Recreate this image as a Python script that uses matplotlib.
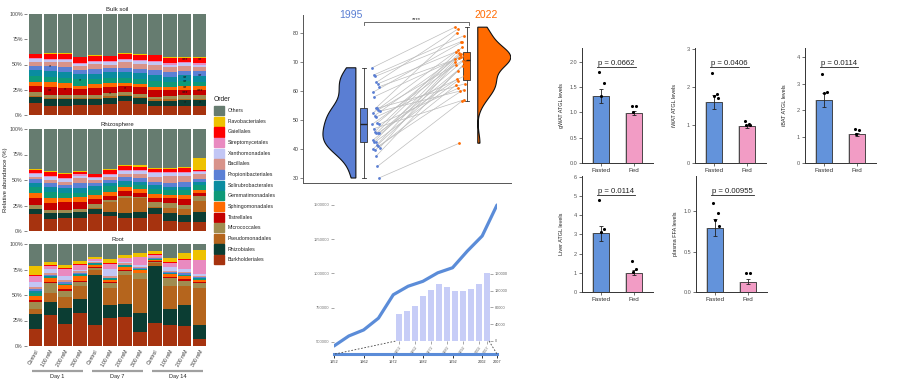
import numpy as np
import matplotlib
matplotlib.use("Agg")
import matplotlib.pyplot as plt
from matplotlib.lines import Line2D
from matplotlib.patches import Rectangle
import matplotlib.transforms as mtransforms

plt.rcParams['font.family'] = ['Liberation Sans', 'DejaVu Sans']

# ---------------------------------------------------------------- data
orders = ["Burkholderiales", "Rhizobiales", "Pseudomonadales", "Micrococcales",
          "Tistrellales", "Sphingomonadales", "Gemmatimonadales",
          "Solirubrobacterales", "Propionibacteriales", "Bacillales",
          "Xanthomonadales", "Streptomycetales", "Gaiellales",
          "Flavobacteriales", "Others"]
order_colors = ["#A6330F", "#0B3D33", "#B5651D", "#A08C50", "#C40000",
                "#FF6A00", "#0E9A78", "#0A8CA0", "#5B80D5", "#D8938A",
                "#C2C6F5", "#E98AC0", "#FF0000", "#EEC200", "#667C70"]
samples = ["Control", "100 mM", "200 mM", "300 mM"] * 3
days = ["Day 1", "Day 7", "Day 14"]

# one row per sample, columns in the order of `orders`
bulk_soil_pct = [
    [11.8, 6.0, 1.5, 3.0, 6.5, 4.0, 5.5, 6.0, 4.5, 4.0, 2.5, 1.0, 4.0, 0.5, 39.2],
    [9.2, 6.5, 1.5, 2.5, 8.0, 4.5, 5.0, 6.0, 5.0, 4.5, 2.0, 1.0, 5.0, 0.5, 38.8],
    [9.2, 6.5, 1.5, 3.0, 7.0, 4.0, 5.0, 6.5, 5.0, 4.5, 2.0, 1.0, 5.5, 0.5, 38.8],
    [10.2, 5.5, 1.5, 3.0, 6.0, 3.0, 6.0, 5.0, 4.0, 4.0, 2.0, 1.5, 5.5, 0.5, 42.3],
    [10.2, 5.5, 1.5, 2.5, 7.5, 3.0, 5.0, 5.5, 4.5, 5.0, 2.0, 1.0, 5.5, 0.5, 40.8],
    [11.2, 5.5, 2.0, 3.0, 6.5, 3.5, 5.0, 5.5, 4.5, 3.3, 2.0, 1.0, 5.0, 0.5, 41.5],
    [13.5, 5.0, 1.5, 2.5, 6.0, 3.5, 5.0, 5.5, 4.5, 5.0, 2.5, 1.0, 5.0, 0.5, 39.0],
    [11.2, 5.5, 1.5, 2.5, 7.0, 3.0, 5.0, 6.0, 4.0, 4.8, 2.5, 1.0, 5.5, 0.5, 40.0],
    [9.2, 5.0, 1.5, 2.5, 7.0, 3.0, 5.5, 6.0, 4.5, 5.8, 2.0, 1.0, 6.0, 0.5, 40.5],
    [8.5, 5.5, 1.5, 3.5, 6.0, 2.5, 5.0, 5.0, 5.0, 5.5, 2.0, 1.5, 5.0, 0.5, 43.0],
    [8.5, 6.0, 1.5, 3.5, 5.5, 4.0, 4.5, 6.0, 4.0, 5.5, 2.0, 1.0, 4.0, 1.0, 43.0],
    [8.5, 6.0, 1.5, 3.5, 5.5, 3.5, 4.5, 6.0, 4.5, 4.0, 2.5, 1.0, 5.0, 1.0, 43.0],
]
rhizosphere_pct = [
    [16.7, 4.5, 0.5, 3.8, 6.5, 5.0, 6.5, 3.3, 3.9, 2.2, 2.7, 0.9, 3.0, 1.0, 39.5],
    [11.8, 5.5, 0.5, 2.8, 6.5, 4.9, 6.6, 4.9, 3.9, 2.3, 3.2, 1.0, 3.9, 1.0, 41.2],
    [12.4, 4.9, 0.5, 2.8, 7.5, 4.6, 4.9, 4.2, 3.3, 3.3, 2.6, 1.3, 3.3, 1.3, 43.1],
    [12.4, 5.9, 0.5, 2.8, 6.5, 5.6, 3.9, 4.9, 4.2, 4.9, 2.6, 1.4, 1.9, 1.3, 41.2],
    [16.7, 4.9, 0.5, 4.0, 5.3, 3.9, 4.9, 3.9, 3.3, 2.3, 1.9, 1.3, 2.7, 0.6, 43.8],
    [14.7, 4.3, 9.8, 1.6, 4.2, 4.0, 5.5, 3.3, 2.3, 3.2, 2.0, 1.3, 3.3, 1.3, 39.2],
    [12.4, 4.9, 14.7, 2.6, 4.9, 3.3, 2.3, 4.2, 3.3, 3.3, 3.3, 0.9, 3.3, 1.3, 35.3],
    [12.4, 6.6, 13.0, 1.7, 3.9, 3.6, 3.9, 3.3, 3.2, 4.0, 3.2, 1.0, 3.3, 1.6, 35.3],
    [16.7, 5.5, 1.7, 4.2, 4.6, 3.2, 5.3, 3.9, 3.3, 4.9, 3.2, 1.0, 3.0, 0.9, 38.6],
    [9.8, 7.5, 4.9, 4.9, 4.9, 3.3, 4.9, 3.3, 3.9, 6.8, 2.3, 1.0, 3.3, 1.3, 37.9],
    [8.8, 6.9, 5.5, 4.3, 5.5, 4.3, 4.9, 3.3, 4.2, 6.2, 3.3, 1.0, 3.2, 1.3, 37.3],
    [9.2, 9.4, 10.8, 4.9, 3.0, 3.2, 4.6, 3.3, 2.6, 4.6, 1.9, 1.0, 1.6, 11.1, 28.8],
]
root_pct = [
    [16.3, 14.7, 4.9, 7.6, 2.0, 4.0, 2.3, 2.6, 1.5, 1.6, 5.2, 5.9, 1.3, 8.8, 21.3],
    [30.4, 13.1, 8.8, 9.1, 1.0, 3.9, 1.7, 1.0, 0.6, 1.6, 4.0, 3.2, 1.3, 2.7, 17.6],
    [21.6, 16.0, 10.1, 6.5, 1.4, 4.2, 0.5, 0.5, 1.6, 2.3, 3.9, 6.6, 0.9, 3.3, 20.6],
    [32.7, 13.1, 13.0, 4.3, 1.0, 4.5, 1.0, 0.6, 1.0, 2.7, 0.6, 4.9, 0.7, 3.6, 16.3],
    [20.6, 49.0, 4.9, 2.3, 1.0, 1.6, 0.6, 1.0, 0.7, 0.6, 1.4, 1.3, 0.6, 1.3, 13.1],
    [27.1, 13.1, 16.3, 5.6, 1.0, 1.6, 1.0, 0.6, 0.7, 1.6, 6.6, 5.2, 0.6, 4.0, 15.0],
    [28.1, 12.7, 28.8, 4.3, 0.6, 3.3, 0.6, 0.6, 0.7, 1.3, 1.3, 3.6, 0.7, 2.6, 10.8],
    [14.1, 18.6, 32.7, 5.8, 0.7, 2.6, 0.6, 0.7, 0.6, 0.6, 2.0, 7.8, 0.7, 3.2, 9.3],
    [22.2, 56.6, 2.2, 1.4, 0.6, 1.3, 0.7, 0.6, 0.7, 0.6, 0.7, 1.7, 0.6, 2.9, 7.2],
    [20.6, 15.3, 22.9, 7.5, 1.0, 3.0, 0.6, 0.9, 1.0, 1.0, 3.9, 3.9, 1.0, 3.2, 14.2],
    [19.6, 20.6, 18.6, 5.2, 1.3, 3.3, 0.7, 0.7, 1.6, 0.7, 3.3, 9.2, 0.7, 5.2, 9.3],
    [7.2, 13.4, 36.3, 4.6, 1.0, 2.6, 0.5, 0.6, 1.6, 0.6, 2.0, 13.7, 0.6, 9.4, 5.9],
]
# significance marks on bulk soil: (sample index, % height, label)
bulk_sig = [(1, 48, "*"), (1, 24.3, "**"), (2, 25, "*"), (3, 34.2, "*"),
            (5, 21, "*"), (6, 26.6, "*"),
            (10, 55.3, "***"), (10, 37.2, "**"), (10, 32.9, "**"),
            (10, 27.6, "**"), (10, 22.7, "***"), (10, 12.8, "*"),
            (11, 55.3, "**"), (11, 38.8, "**"), (11, 24.0, "***"), (11, 12.8, "*")]

# paired raincloud
vals_1995 = [68, 65.5, 65, 63, 62.5, 61.5, 59.5, 58, 54, 54, 53.5, 53, 52.5, 51.5,
             51, 49, 48.5, 48.5, 47, 46, 45.5, 45.5, 45.5, 43, 42.5, 42.5, 41.5,
             41, 40.5, 40, 39.5, 37.5, 34, 30]
vals_2022 = [82, 79, 77, 81.5, 73.5, 72, 76.8, 71.5, 80, 62.5, 70.5, 60, 74, 71.2,
             65, 72.8, 61, 69, 57, 75, 73, 64, 71, 68.5, 72.5, 63.5, 70, 60.5,
             71.8, 67, 62, 69.5, 56.5, 42]

# line + inset bars
years = [1952, 1957, 1962, 1967, 1972, 1977, 1982, 1987, 1992, 1997, 2002, 2007]
line_values = [471000, 544000, 588000, 674000, 845000, 907000, 943000, 1005000,
               1042000, 1164000, 1274000, 1500000]
bar_values = [65600, 72000, 83200, 107200, 121600, 135200, 129600, 119200,
              119200, 124000, 135200, 161600]
context_ticks = [1952, 1962, 1972, 1982, 1992, 2002, 2007]

# ATGL / FFA panels
groups = ["Fasted", "Fed"]
gwat_mean, gwat_sem = [1.32, 0.99], [0.14, 0.04]
gwat_pts = [[1.80, 1.57, 1.33], [1.13, 1.13, 1.01]]
iwat_mean, iwat_sem = [1.60, 0.97], [0.19, 0.04]
iwat_pts = [[2.37, 1.80, 1.76, 1.72], [1.10, 1.03, 1.00, 0.99]]
ibat_mean, ibat_sem = [2.38, 1.08], [0.27, 0.07]
ibat_pts = [[3.38, 2.67, 2.63], [1.30, 1.25, 1.10]]
liver_mean, liver_sem = [3.05, 1.00], [0.40, 0.12]
liver_pts = [[4.80, 3.28, 3.15], [1.62, 1.18, 1.05]]
ffa_mean, ffa_sem = [0.80, 0.13], [0.11, 0.03]
ffa_pts = [[1.11, 0.98, 0.90, 0.82], [0.24, 0.23]]
p_labels = ["p = 0.0662", "p = 0.0406", "p = 0.0114", "p = 0.0114", "p = 0.00955"]

# ---------------------------------------------------------------- figure
W, H = 900, 383
fig = plt.figure(figsize=(9, 3.83), dpi=100)


def add_ax(l, t, r, b):
    return fig.add_axes([l / W, 1 - b / H, (r - l) / W, (b - t) / H])


# ---------------- stacked bars
facets = [("Bulk soil", bulk_soil_pct, 14, 115),
          ("Rhizosphere", rhizosphere_pct, 129, 231),
          ("Root", root_pct, 244, 346)]
x = np.arange(len(samples))
for fi, (title, data, top, bot) in enumerate(facets):
    ax = add_ax(27, top, 208, bot)
    arr = np.array(data).T
    bottom = np.zeros(len(samples))
    for k in range(len(orders)):
        ax.bar(x, arr[k], bottom=bottom, width=0.89, color=order_colors[k],
               edgecolor="none")
        bottom += arr[k]
    ax.set_xlim(-0.55, 11.55)
    ax.set_ylim(0, 100)
    ax.set_yticks([0, 25, 50, 75, 100])
    ax.set_yticklabels(["0%", "25%", "50%", "75%", "100%"])
    ax.tick_params(axis="y", labelsize=3.8, length=2, width=0.5, color="#555",
                   labelcolor="#444", pad=1)
    for s in ax.spines.values():
        s.set_visible(False)
    ax.set_title(title, fontsize=4.3, pad=2, color="#222")
    if fi < 2:
        ax.set_xticks([])
    else:
        ax.set_xticks(x)
        ax.set_xticklabels(samples, rotation=60, ha="right", va="top",
                           rotation_mode="anchor")
        ax.tick_params(axis="x", labelsize=3.7, length=0, pad=2, labelcolor="#333")
        tr = mtransforms.blended_transform_factory(ax.transData, ax.transAxes)
        for d, day in enumerate(days):
            ax.add_line(Line2D([d * 4 - 0.2, d * 4 + 3.2], [-0.245, -0.245],
                               transform=tr, color="#A0A0A0", lw=1.6,
                               clip_on=False, solid_capstyle="butt"))
            ax.text(d * 4 + 1.5, -0.27, day, transform=tr, ha="center",
                    va="top", fontsize=4, color="#222")
    if fi == 0:
        for i, yv, lab in bulk_sig:
            ax.text(i, yv, lab, ha="center", va="center", fontsize=4,
                    color="#111")

fig.text(6 / W, 1 - 180 / H, "Relative abundance (%)", rotation=90,
         ha="center", va="center", fontsize=4.3, color="#222")

# legend
lax = add_ax(205, 90, 290, 268)
lax.set_xlim(205, 290)
lax.set_ylim(268, 90)
lax.axis("off")
lax.text(214, 99.5, "Order", fontsize=4.8, va="center", ha="left", color="#222")
for i, k in enumerate(range(len(orders) - 1, -1, -1)):
    yc = 110.7 + i * 10.64
    lax.add_patch(Rectangle((214, yc - 4.6), 9.5, 9.2, color=order_colors[k]))
    lax.text(228, yc, orders[k], fontsize=3.8, va="center", ha="left",
             color="#222")

# ---------------- raincloud
rax = add_ax(303, 15, 511, 183)
rax.set_xlim(0.408, 2.43)
rax.set_ylim(28.28, 86.2)


def kde_nrd0(vals, grid):
    v = np.asarray(vals, float)
    n = len(v)
    sd = v.std(ddof=1)
    iqr = np.subtract(*np.percentile(v, [75, 25]))
    bw = 0.9 * min(sd, iqr / 1.34) * n ** -0.2
    return np.exp(-0.5 * ((grid[:, None] - v[None, :]) / bw) ** 2).sum(1) / (
        n * bw * np.sqrt(2 * np.pi))


blue_r, orange_r = "#5A7ED3", "#FF6A00"
for vals, edge, side, col in [(vals_1995, 0.922, -1, blue_r),
                              (vals_2022, 2.107, 1, orange_r)]:
    g = np.linspace(min(vals), max(vals), 300)
    d = kde_nrd0(vals, g)
    wdt = d / d.max() * 0.32
    xs = np.r_[edge + side * wdt, edge, edge]
    ys = np.r_[g, g[-1], g[0]]
    rax.fill(xs, ys, facecolor=col, edgecolor="#111", lw=0.8, zorder=2)

n = len(vals_1995)
jit = ((np.arange(n) * 37) % 17) / 16.0
x95 = 1.08 + jit * 0.075
x22 = 1.885 + ((np.arange(n) * 23) % 13) / 12.0 * 0.10
for a, b, xa, xb in zip(vals_1995, vals_2022, x95, x22):
    rax.plot([xa, xb], [a, b], color="#BDBDBD", lw=0.5, zorder=1)
rax.scatter(x95, vals_1995, s=4, color=blue_r, zorder=3, linewidths=0)
rax.scatter(x22, vals_2022, s=4, color=orange_r, zorder=3, linewidths=0)

for vals, pos, col in [(vals_1995, 1.0, blue_r), (vals_2022, 2.0, orange_r)]:
    bp = rax.boxplot([vals], positions=[pos], widths=0.07, showfliers=False,
                     patch_artist=True, manage_ticks=False)
    for b in bp["boxes"]:
        b.set(facecolor=col, edgecolor="#333", lw=0.6)
    for m in bp["medians"]:
        m.set(color="#222", lw=1.0)
    for w_ in bp["whiskers"] + bp["caps"]:
        w_.set(color="#333", lw=0.6)

rax.text(0.875, 86.2, "1995", color=blue_r, fontsize=7.5, ha="center",
         va="center")
rax.text(2.19, 86.2, "2022", color=orange_r, fontsize=7.5, ha="center",
         va="center")
rax.plot([1.0, 1.0, 2.02, 2.02], [82.8, 83.8, 83.8, 82.8], color="#555",
         lw=0.6, clip_on=False)
rax.text(1.51, 83.9, "****", ha="center", va="bottom", fontsize=4.2,
         color="#222")
for s in ["top", "right"]:
    rax.spines[s].set_visible(False)
for s in ["left", "bottom"]:
    rax.spines[s].set_color("#555")
    rax.spines[s].set_linewidth(0.7)
rax.set_xticks([])
rax.set_yticks([30, 40, 50, 60, 70, 80])
rax.tick_params(axis="y", labelsize=3.8, length=2, width=0.5, color="#555",
                labelcolor="#333", pad=1)

# ---------------- line chart with inset bars
ins = add_ax(396, 272, 490, 341)
ins.bar(np.arange(len(bar_values)), bar_values, width=0.78, color="#C7CDF7")
ins.set_xlim(-0.4, 11.4)
ins.set_ylim(0, 164776)
for s in ins.spines.values():
    s.set_visible(False)
ins.yaxis.tick_right()
ins.set_yticks([0, 40000, 80000, 120000, 160000])
ins.set_yticklabels(["0", "40000", "80000", "120000", "160000"])
ins.set_xticks([0, 2, 4, 6, 8, 10, 11])
ins.set_xticklabels(["1952", "1962", "1972", "1982", "1992", "2002", "2007"],
                    rotation=55, ha="right", va="top", rotation_mode="anchor")
ins.tick_params(labelsize=2.8, length=2, width=0.4, color="#666",
                labelcolor="#666", pad=1.2)
ins.patch.set_alpha(0)

main = add_ax(334, 200, 497, 360)
main.plot(years, line_values, color="#5B8CD8", lw=2.3, solid_capstyle="round",
          solid_joinstyle="round")
main.set_xlim(1952, 2007)
main.set_ylim(368613, 1536496)
main.patch.set_alpha(0)
for s in main.spines.values():
    s.set_visible(False)
main.set_xticks([])
main.set_yticks([500000, 750000, 1000000, 1250000, 1500000])
main.set_yticklabels(["500000", "750000", "1000000", "1250000", "1500000"])
main.tick_params(axis="y", labelsize=3.0, length=2.5, width=0.4, color="#666",
                 labelcolor="#777", pad=1)

ctx = add_ax(334, 340, 497, 354)
ctx.set_xlim(1952, 2007)
ctx.patch.set_alpha(0)
for s in ["top", "left", "right"]:
    ctx.spines[s].set_visible(False)
ctx.spines["bottom"].set_color("#5B8CD8")
ctx.spines["bottom"].set_linewidth(2.2)
ctx.set_yticks([])
ctx.set_xticks(context_ticks)
ctx.set_xticklabels([str(t) for t in context_ticks])
ctx.tick_params(axis="x", labelsize=2.8, length=3, width=0.6, color="#111",
                labelcolor="#333", pad=1.5)

fig.add_artist(Line2D([335 / W, 396 / W], [1 - 354 / H, 1 - 341 / H],
                      ls=(0, (2, 2)), lw=0.6, color="#444"))
fig.add_artist(Line2D([489 / W, 497 / W], [1 - 341 / H, 1 - 354 / H],
                      ls=(0, (2, 2)), lw=0.6, color="#444"))

# ---------------- bar panels
blue_b, pink_b = "#6393DB", "#F29CC5"
panels = [
    (582, 48, 163, gwat_mean, gwat_sem, gwat_pts, 2.27, [0, 0.5, 1.0, 1.5, 2.0],
     ["0.0", "0.5", "1.0", "1.5", "2.0"], "gWAT ATGL levels", p_labels[0]),
    (695, 48, 163, iwat_mean, iwat_sem, iwat_pts, 3.02, [0, 1, 2, 3],
     ["0", "1", "2", "3"], "iWAT ATGL levels", p_labels[1]),
    (805, 48, 163, ibat_mean, ibat_sem, ibat_pts, 4.35, [0, 1, 2, 3, 4],
     ["0", "1", "2", "3", "4"], "iBAT ATGL levels", p_labels[2]),
    (582, 176, 292, liver_mean, liver_sem, liver_pts, 6.04, [0, 1, 2, 3, 4, 5, 6],
     ["0", "1", "2", "3", "4", "5", "6"], "Liver ATGL levels", p_labels[3]),
    (696, 176, 292, ffa_mean, ffa_sem, ffa_pts, 1.44, [0, 0.5, 1.0],
     ["0.0", "0.5", "1.0"], "plasma FFA levels", p_labels[4]),
]
jit_b = [-0.06, 0.07, -0.01, 0.11]
ptexts = []
for (l, t, b, mean, sem, pts, ytop, yt, ytl, ylab, ptxt) in panels:
    ax = add_ax(l, t, l + 71, b)
    ax.bar([1, 2], mean, width=0.56, color="#D0D0D0", edgecolor="none", zorder=1)
    ax.bar([1, 2], mean, width=0.5, color=[blue_b, pink_b], edgecolor="#333",
           lw=0.6, zorder=2)
    ax.errorbar([1, 2], mean, yerr=sem, fmt="none", ecolor="#222",
                elinewidth=0.6, capsize=1.4, capthick=0.6, zorder=3)
    for gi, p in enumerate(pts):
        ax.scatter([gi + 1 + jit_b[j] for j in range(len(p))], p, s=5,
                   color="black", zorder=4, linewidths=0)
    ax.set_xlim(0.4, 2.6)
    ax.set_ylim(0, ytop)
    ax.set_xticks([1, 2])
    ax.set_xticklabels(groups)
    ax.set_yticks(yt)
    ax.set_yticklabels(ytl)
    ax.tick_params(axis="x", labelsize=4.5, length=2, width=0.5, color="#333",
                   labelcolor="#333", pad=1.5)
    ax.tick_params(axis="y", labelsize=4.0, length=2, width=0.5, color="#333",
                   labelcolor="#555", pad=1.5)
    for s in ["top", "right"]:
        ax.spines[s].set_visible(False)
    for s in ["left", "bottom"]:
        ax.spines[s].set_color("#333")
        ax.spines[s].set_linewidth(0.7)
    ax.set_ylabel(ylab, fontsize=4.0, color="#222")
    ax.yaxis.set_label_coords(-0.25, 0.5)
    tr = mtransforms.blended_transform_factory(ax.transData, ax.transAxes)
    tx = ax.text(0.9, 0.855, ptxt, transform=tr, ha="left", va="baseline",
                 fontsize=5.6, color="#222")
    ptexts.append((ax, tx))

fig.canvas.draw()
r = fig.canvas.get_renderer()
for ax, tx in ptexts:
    bb = tx.get_window_extent(r)
    yb = ax.transAxes.transform((0, 0.838))[1]
    fig.add_artist(Line2D([(bb.x0 - 1) / W, (bb.x1 + 1) / W], [yb / H, yb / H],
                          color="#222", lw=0.6))

fig.savefig("out.png", dpi=100)
